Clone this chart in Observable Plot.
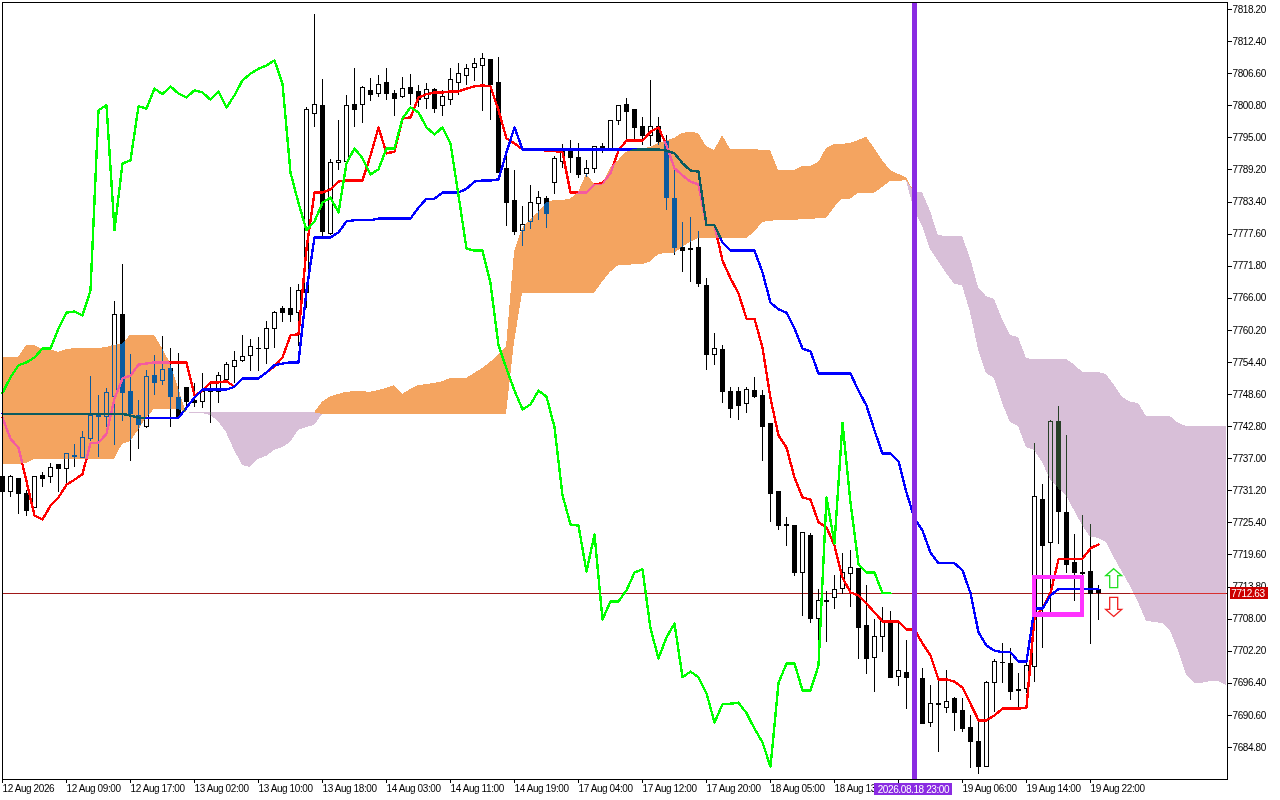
<!DOCTYPE html>
<html>
<head>
<meta charset="utf-8">
<script src="https://cdn.jsdelivr.net/npm/d3@7"></script>
<script src="https://cdn.jsdelivr.net/npm/@observablehq/plot@0.6"></script>
<style>
html,body{margin:0;padding:0;background:#fff;overflow:hidden}
svg{display:block}
</style>
</head>
<body>
<div id="chart"></div>
<script>
const opens = [7733.6,7730.9,7733.4,7730.6,7728.0,7733.8,7733.6,7735.8,7735.1,7737.5,7737.2,7740.5,7744.6,7744.6,7748.1,7762.9,7749.1,7744.8,7742.8,7751.9,
7751.0,7753.3,7747.9,7749.8,7747.5,7747.3,7749.3,7749.0,7751.3,7753.5,7754.6,7755.5,7756.8,7756.9,7760.5,7764.0,7764.0,7763.4,7767.0,7799.4,
7800.8,7777.7,7790.5,7790.7,7801.0,7801.0,7803.4,7802.9,7805.0,7802.9,7802.3,7804.1,7803.2,7802.1,7803.6,7800.7,7801.9,7805.0,7806.1,7807.7,
7807.9,7809.0,7805.0,7789.3,7783.5,7778.1,7779.7,7783.0,7784.0,7786.9,7790.7,7792.7,7791.4,7788.4,7789.3,7793.4,7792.9,7798.0,7800.9,7800.0,
7797.0,7795.4,7796.9,7794.2,7784.0,7775.0,7774.8,7775.0,7768.3,7755.7,7756.7,7749.1,7749.0,7746.8,7749.3,7748.4,7743.2,7730.9,7725.0,7724.9,
7716.4,7723.1,7708.0,7711.1,7711.9,7713.4,7716.1,7717.0,7706.7,7700.9,7704.7,7707.2,7697.6,7698.3,7697.3,7697.1,7689.3,7692.5,7692.0,7693.5,
7691.3,7688.4,7685.7,7681.3,7696.4,7700.0,7699.8,7695.2,7695.4,7699.3,7729.6,7721.7,7743.7,7727.1,7718.2,7716.3,7716.6,7713.2];
const highs = [7734.0,7734.0,7733.4,7731.3,7733.6,7734.5,7736.1,7735.8,7737.9,7739.6,7741.9,7751.9,7748.4,7749.7,7765.4,7772.1,7755.8,7747.5,7753.0,7755.7,
7759.1,7756.9,7756.0,7749.8,7750.6,7752.4,7750.6,7752.6,7754.4,7756.4,7759.3,7758.6,7758.9,7761.8,7763.6,7764.5,7768.0,7768.5,7800.5,7817.3,
7805.5,7791.1,7798.1,7802.7,7807.5,7804.3,7805.7,7806.3,7807.5,7803.6,7805.9,7806.5,7804.5,7804.8,7803.9,7803.6,7807.5,7808.4,7808.2,7809.4,
7810.3,7809.2,7809.5,7792.4,7789.1,7782.6,7786.4,7785.3,7784.4,7791.6,7793.8,7794.5,7794.0,7790.9,7793.3,7794.0,7798.1,7800.9,7802.1,7800.1,
7798.7,7805.4,7798.7,7795.4,7789.5,7779.7,7780.6,7778.1,7769.6,7759.6,7757.5,7749.8,7749.8,7749.8,7751.7,7749.3,7743.4,7731.1,7726.3,7724.9,
7723.7,7723.5,7713.4,7713.0,7715.9,7719.9,7720.4,7717.2,7714.1,7708.0,7710.1,7709.4,7707.2,7704.1,7699.1,7699.1,7696.0,7697.6,7698.7,7693.8,
7693.7,7690.6,7689.7,7696.7,7700.7,7703.6,7702.7,7698.2,7700.5,7739.7,7732.3,7743.9,7746.4,7741.2,7723.3,7726.7,7725.1,7714.1];
const lows = [7730.4,7729.9,7726.9,7726.5,7728.0,7731.8,7732.5,7730.9,7732.5,7735.4,7737.2,7740.1,7737.2,7742.7,7739.4,7743.7,7736.5,7738.7,7742.4,7748.4,
7750.2,7742.7,7744.6,7745.7,7746.2,7746.1,7743.4,7747.0,7751.3,7750.6,7754.3,7752.8,7752.8,7754.1,7756.9,7761.6,7761.6,7757.3,7764.1,7796.9,
7776.6,7777.3,7789.1,7790.7,7796.9,7797.6,7801.6,7802.3,7801.8,7798.9,7802.1,7800.9,7800.5,7800.1,7799.4,7798.9,7800.9,7802.7,7804.5,7805.2,
7799.8,7798.1,7788.6,7779.0,7777.3,7775.4,7778.4,7780.1,7778.6,7784.8,7789.5,7788.6,7787.6,7787.8,7788.6,7792.2,7792.9,7797.2,7794.5,7794.2,
7793.6,7793.4,7793.6,7781.9,7773.7,7770.7,7768.9,7767.9,7753.0,7753.9,7747.0,7744.3,7743.9,7745.2,7747.9,7736.5,7725.5,7724.0,7721.1,7715.7,
7708.5,7707.2,7703.4,7703.8,7709.7,7712.5,7710.1,7700.7,7698.0,7694.7,7702.0,7697.3,7695.8,7691.7,7693.3,7689.1,7688.4,7683.9,7691.0,7687.7,
7687.5,7681.0,7679.9,7681.2,7691.1,7696.4,7693.3,7691.5,7694.6,7696.5,7702.7,7709.0,7721.5,7716.3,7711.2,7713.2,7703.4,7707.8];
const closes = [7730.9,7733.6,7730.6,7727.6,7733.6,7733.4,7735.4,7735.1,7737.9,7737.3,7740.7,7744.8,7744.7,7748.8,7762.9,7748.8,7745.0,7743.0,7751.7,7750.6,
7753.1,7748.1,7744.6,7747.3,7747.1,7749.0,7749.0,7751.9,7753.9,7754.6,7755.3,7757.1,7756.9,7760.5,7763.4,7763.4,7762.9,7767.4,7800.0,7801.0,
7777.9,7790.4,7790.9,7800.8,7800.1,7804.1,7802.7,7804.5,7802.9,7802.1,7803.8,7803.0,7801.8,7803.6,7800.3,7802.3,7805.4,7806.6,7807.5,7808.3,
7809.2,7804.5,7788.6,7783.2,7777.9,7779.3,7783.3,7784.2,7781.3,7791.1,7792.5,7791.4,7788.2,7789.3,7793.3,7792.9,7798.1,7800.7,7799.6,7796.7,
7795.4,7797.0,7794.2,7784.2,7775.0,7774.6,7774.9,7768.5,7755.8,7756.9,7749.1,7745.9,7746.6,7749.5,7748.2,7742.7,7730.6,7724.9,7724.9,7716.4,
7723.5,7708.0,7711.2,7711.2,7713.2,7716.4,7717.2,7706.3,7700.7,7704.7,7707.4,7697.3,7698.7,7697.3,7696.5,7689.1,7692.6,7692.6,7693.1,7691.0,
7688.2,7685.7,7681.2,7696.4,7700.2,7700.1,7694.9,7695.0,7699.6,7730.0,7721.3,7743.7,7727.3,7717.7,7716.3,7716.2,7712.6,7712.63];

const tenkan = [7744.4,7740.6,7739.0,7732.9,7726.7,7726.0,7728.5,7730.0,7732.3,7733.2,7734.2,7739.8,7739.9,7741.5,7747.9,7751.5,7752.0,7754.0,7754.2,7754.4,
7754.4,7754.4,7754.4,7754.4,7748.4,7749.3,7750.8,7750.8,7751.0,7750.0,7751.5,7751.5,7751.5,7752.6,7753.7,7755.3,7759.3,7759.5,7775.0,7785.1,
7785.1,7785.7,7787.1,7787.3,7787.3,7787.3,7791.8,7796.9,7792.2,7792.5,7798.5,7798.7,7802.3,7802.9,7803.2,7803.2,7803.4,7803.4,7803.9,7804.3,
7804.5,7804.3,7800.0,7794.9,7794.0,7792.9,7792.9,7792.9,7792.7,7792.6,7792.4,7785.1,7785.1,7785.1,7786.6,7786.8,7788.6,7792.7,7794.5,7794.5,
7794.5,7796.1,7796.9,7793.6,7789.5,7788.2,7787.1,7786.6,7779.2,7779.2,7772.8,7769.6,7766.9,7762.3,7762.3,7757.1,7747.9,7741.2,7739.0,7733.6,
7730.0,7729.6,7725.5,7724.6,7721.3,7715.5,7712.8,7712.3,7710.8,7709.2,7707.6,7707.6,7707.6,7706.1,7706.1,7703.6,7701.4,7697.1,7697.1,7696.7,
7695.6,7692.7,7689.7,7689.7,7690.6,7691.8,7691.8,7691.8,7692.0,7708.3,7709.9,7712.7,7718.8,7718.9,7718.9,7718.9,7720.8,7721.5];

const kijun = [7745.1,7745.1,7745.1,7745.1,7745.1,7745.1,7745.1,7745.1,7745.1,7745.1,7745.1,7745.1,7745.1,7745.1,7745.1,7745.1,7744.8,7744.4,7744.4,7744.4,
7744.4,7744.4,7744.4,7746.2,7748.1,7749.5,7749.5,7749.5,7749.5,7750.0,7751.5,7751.5,7751.5,7752.6,7753.9,7754.2,7754.4,7754.4,7767.4,7777.0,
7777.0,7777.0,7777.9,7779.9,7780.1,7780.1,7780.1,7780.4,7780.4,7780.4,7780.4,7780.4,7782.4,7784.0,7784.0,7785.1,7785.1,7785.1,7785.8,7787.1,
7787.3,7787.3,7787.5,7792.4,7796.9,7792.9,7792.9,7792.9,7792.9,7792.9,7792.9,7792.9,7792.9,7792.9,7792.9,7792.9,7792.9,7792.9,7792.9,7792.9,
7792.9,7792.9,7792.9,7792.7,7792.2,7790.4,7789.1,7788.9,7779.2,7779.2,7776.1,7774.6,7774.6,7774.6,7774.6,7770.7,7765.2,7764.0,7763.4,7760.5,
7756.9,7756.4,7752.4,7752.4,7752.4,7752.4,7752.4,7749.3,7746.6,7742.1,7737.9,7737.9,7736.5,7730.9,7726.2,7724.0,7720.0,7718.1,7718.1,7718.1,
7716.8,7712.7,7705.6,7703.2,7702.3,7702.0,7702.0,7700.3,7700.3,7709.9,7709.9,7712.3,7713.4,7713.4,7713.4,7713.4,7713.4,7713.4];

const chikou = [7748.9,7751.7,7753.9,7754.4,7755.3,7756.9,7756.9,7760.5,7763.4,7763.6,7762.9,7767.4,7800.0,7800.9,7778.3,7790.4,7790.9,7800.7,7800.3,7803.9,
7802.9,7804.3,7803.0,7802.3,7803.6,7803.2,7801.9,7803.4,7800.5,7802.7,7805.4,7806.6,7807.5,7808.1,7809.0,7804.8,7788.7,7783.2,7778.3,7779.9,
7783.3,7784.2,7781.5,7790.4,7793.1,7791.3,7788.4,7789.3,7793.1,7793.1,7798.5,7800.5,7799.6,7796.9,7795.6,7796.9,7794.0,7784.6,7775.0,7774.6,
7774.6,7768.7,7757.5,7753.3,7749.3,7745.9,7746.8,7749.3,7748.2,7742.7,7730.4,7725.1,7724.9,7716.6,7723.3,7707.9,7711.2,7711.2,7713.2,7716.4,
7717.0,7706.3,7700.9,7704.7,7707.2,7697.5,7698.5,7697.5,7694.6,7689.3,7692.6,7692.7,7692.9,7691.0,7688.2,7685.7,7681.3,7696.4,7700.0,7700.0,
7695.1,7695.1,7699.6,7730.0,7721.7,7743.5,7729.1,7717.9,7716.4,7716.4,7712.7,7712.7];

const spanA = [7755.3,7755.3,7755.3,7757.5,7757.5,7756.7,7756.7,7756.2,7756.7,7756.9,7756.9,7756.9,7756.9,7757.1,7757.5,7757.7,7759.3,7759.3,7759.3,7759.3,
7756.9,7754.2,7749.7,7745.3,7745.2,7745.2,7744.8,7743.7,7741.7,7738.5,7735.8,7735.4,7736.9,7737.4,7738.5,7739.0,7739.9,7742.1,7742.6,7743.0,
7747.2,7748.2,7748.6,7749.0,7749.1,7749.1,7749.0,7749.3,7749.7,7750.2,7748.6,7749.5,7750.2,7750.4,7750.6,7750.9,7751.5,7751.5,7751.5,7752.4,
7753.3,7754.4,7755.7,7757.1,7774.3,7778.6,7780.1,7781.5,7783.2,7783.7,7783.7,7783.9,7785.1,7788.4,7786.6,7786.6,7789.5,7790.9,7792.4,7792.9,
7793.1,7793.2,7794.0,7794.4,7794.9,7795.8,7796.0,7795.8,7793.4,7792.7,7795.4,7792.9,7792.9,7792.9,7792.9,7792.7,7792.7,7789.1,7789.1,7789.1,
7789.8,7789.8,7790.5,7793.1,7793.8,7793.8,7794.0,7794.5,7795.1,7793.1,7790.9,7789.1,7788.4,7787.8,7781.7,7779.0,7774.8,7772.6,7770.5,7768.5,
7768.3,7763.4,7756.7,7752.4,7751.5,7747.0,7743.5,7742.8,7739.0,7738.5,7736.3,7733.2,7731.6,7730.2,7727.6,7724.9,7722.8,7722.6,7721.8,7719.0,
7716.4,7713.9,7711.0,7707.6,7707.4,7707.2,7705.8,7702.3,7697.8,7696.4,7696.4,7696.7,7696.7,7696.0];

const spanB = [7736.0,7736.0,7736.0,7736.1,7736.9,7736.9,7736.9,7736.9,7736.9,7736.9,7736.9,7736.9,7736.9,7736.9,7736.9,7739.6,7740.1,7742.1,7744.4,7745.9,
7745.9,7745.9,7745.9,7745.3,7745.3,7745.3,7745.3,7745.3,7745.3,7745.3,7745.3,7745.3,7745.3,7745.3,7745.3,7745.3,7745.3,7745.3,7745.3,7745.3,
7745.0,7745.0,7745.0,7745.0,7745.0,7745.0,7745.0,7745.0,7745.0,7745.0,7745.0,7745.0,7745.0,7745.0,7745.0,7745.0,7745.0,7745.0,7745.0,7745.0,
7745.0,7745.0,7745.0,7745.0,7758.0,7766.9,7766.9,7766.9,7766.9,7766.9,7766.9,7766.9,7766.9,7766.9,7766.9,7768.9,7770.7,7771.9,7771.9,7772.1,
7772.1,7772.5,7773.9,7774.1,7774.1,7775.2,7776.1,7776.8,7776.8,7776.8,7776.8,7776.8,7776.8,7776.8,7777.9,7779.7,7779.9,7780.1,7780.1,7780.1,
7780.2,7780.2,7780.4,7780.4,7782.4,7783.9,7783.9,7785.0,7785.0,7785.0,7786.0,7787.1,7787.1,7787.3,7785.1,7785.1,7781.7,7777.3,7777.2,7777.2,
7777.2,7773.2,7767.9,7766.3,7765.8,7762.2,7759.3,7758.9,7755.1,7754.9,7754.9,7754.9,7754.9,7754.9,7754.0,7752.6,7752.6,7752.6,7752.2,7750.2,
7748.1,7747.2,7747.0,7744.6,7744.6,7744.6,7744.6,7743.4,7742.8,7742.8,7742.8,7742.8,7742.8,7742.8];

const yTicks = [7818.2,7812.4,7806.6,7800.8,7795.0,7789.2,7783.4,7777.6,7771.8,7766.0,7760.2,7754.4,7748.6,7742.8,7737.0,7731.2,7725.4,7719.6,7713.8,7708.0,7702.2,7696.4,7690.6,7684.8];
const xTickBars = [0,8,16,24,32,40,48,56,64,72,80,88,96,104,112,120,128,136];
const xTickLabels = ["12 Aug 2026","12 Aug 09:00","12 Aug 17:00","13 Aug 02:00","13 Aug 10:00","13 Aug 18:00","14 Aug 03:00","14 Aug 11:00","14 Aug 19:00","17 Aug 04:00","17 Aug 12:00","17 Aug 20:00","18 Aug 05:00","18 Aug 13:00","","19 Aug 06:00","19 Aug 14:00","19 Aug 22:00"];

const lastPrice = 7712.63;
const markerBar = 114;
const markerLabel = "2026.08.18 23:00";
const boxBars = [129,135];
const boxPrices = [7708.7,7715.5];
const upArrow = {bar:138.9, price:7715.4};
const downArrow = {bar:138.9, price:7710.2};

const bars = opens.map((o,i)=>({i,open:o,high:highs[i],low:lows[i],close:closes[i]}));
const cloud = spanA.map((a,i)=>({i,a,b:spanB[i]}));
const series = a => a.map((v,i)=>({i,v}));

const upSym = {draw(c){c.moveTo(0,-9.5);c.lineTo(8,-2.5);c.lineTo(4,-2.5);c.lineTo(4,9.5);c.lineTo(-4,9.5);c.lineTo(-4,-2.5);c.lineTo(-8,-2.5);c.closePath();}};
const downSym = {draw(c){c.moveTo(0,9.5);c.lineTo(8,2.5);c.lineTo(4,2.5);c.lineTo(4,-9.5);c.lineTo(-4,-9.5);c.lineTo(-4,2.5);c.lineTo(-8,2.5);c.closePath();}};

const crisp = {shapeRendering:"crispEdges"};
const halfBody = 0.25;
const lineWidth = 2.4;

const chart = Plot.plot({
  width:1280, height:800,
  marginLeft:2, marginRight:53, marginTop:2, marginBottom:21,
  style:{background:"#fff",fontFamily:"'Liberation Sans',Arial,sans-serif",fontSize:"10px",letterSpacing:"-0.4px",color:"#000"},
  x:{type:"linear",domain:[-0.0625,153.0625],range:[1.5,1226.5]},
  y:{type:"linear",domain:[7679.0,7819.47],range:[779,2]},
  marks:[
    Plot.frame({fill:"#fff",stroke:"none"}),
    Plot.ruleY([lastPrice],{stroke:"#a01818",strokeWidth:1,...crisp}),
    Plot.ruleX(bars,{x:"i",y1:"low",y2:"high",stroke:"#000",strokeWidth:1,...crisp}),
    Plot.rect(bars.filter(d=>d.close>=d.open),{x1:d=>d.i-halfBody,x2:d=>d.i+halfBody,y1:"open",y2:"close",fill:"#fff",stroke:"#000",strokeWidth:1,...crisp}),
    Plot.rect(bars.filter(d=>d.close<d.open),{x1:d=>d.i-halfBody,x2:d=>d.i+halfBody,y1:"open",y2:"close",fill:"#000",stroke:"#000",strokeWidth:1,...crisp}),
    Plot.line(series(tenkan),{x:"i",y:"v",stroke:"#ff0000",strokeWidth:lineWidth,...crisp}),
    Plot.line(series(kijun),{x:"i",y:"v",stroke:"#0000ff",strokeWidth:lineWidth,...crisp}),
    Plot.areaY(cloud,{x:"i",y1:"b",y2:d=>Math.max(d.a,d.b),fill:"#0B5B9F",mixBlendMode:"difference",...crisp}),
    Plot.areaY(cloud,{x:"i",y1:"b",y2:d=>Math.min(d.a,d.b),fill:"#274027",mixBlendMode:"difference",...crisp}),
    Plot.ruleY([lastPrice],{x1:141,x2:153.06,stroke:"#d83030",strokeWidth:1,...crisp}),
    Plot.line(series(chikou),{x:"i",y:"v",stroke:"#00ff00",strokeWidth:lineWidth,...crisp}),
    Plot.ruleX([markerBar],{stroke:"#8a2be2",strokeWidth:5,...crisp}),
    Plot.rect([0],{x1:boxBars[0],x2:boxBars[1],y1:boxPrices[0],y2:boxPrices[1],fill:"none",stroke:"#ff33ff",strokeWidth:4.5,...crisp}),
    Plot.dot([upArrow],{x:"bar",y:"price",symbol:upSym,r:5,fill:"#fff",stroke:"#22e022",strokeWidth:1.3}),
    Plot.dot([downArrow],{x:"bar",y:"price",symbol:downSym,r:5,fill:"#fff",stroke:"#f02020",strokeWidth:1.3}),
    Plot.frame({stroke:"#000",...crisp}),
    Plot.axisY({anchor:"right",ticks:yTicks,tickFormat:d=>d.toFixed(2),label:null,tickSize:4,tickPadding:1,textAnchor:"start",...crisp}),
    Plot.axisX({anchor:"bottom",ticks:xTickBars,tickFormat:d=>xTickLabels[xTickBars.indexOf(d)],label:null,tickSize:4,tickPadding:1,textAnchor:"start",...crisp}),
    Plot.rect([0],{x1:109.06,x2:118.8,y1:7678.3,y2:7676.1,fill:"#8a2be2",clip:false,...crisp}),
    Plot.text([markerLabel],{x:109.4,y:7677.2,text:d=>d,fill:"#fff",textAnchor:"start",clip:false}),
    Plot.rect([0],{x1:153.44,x2:158.3,y1:lastPrice-1.1,y2:lastPrice+1.0,fill:"#cc0000",clip:false,...crisp}),
    Plot.text([lastPrice],{x:153.6,y:lastPrice,text:d=>d.toFixed(2),fill:"#fff",textAnchor:"start",clip:false})
  ]
});
document.getElementById("chart").appendChild(chart);
</script>
</body>
</html>
